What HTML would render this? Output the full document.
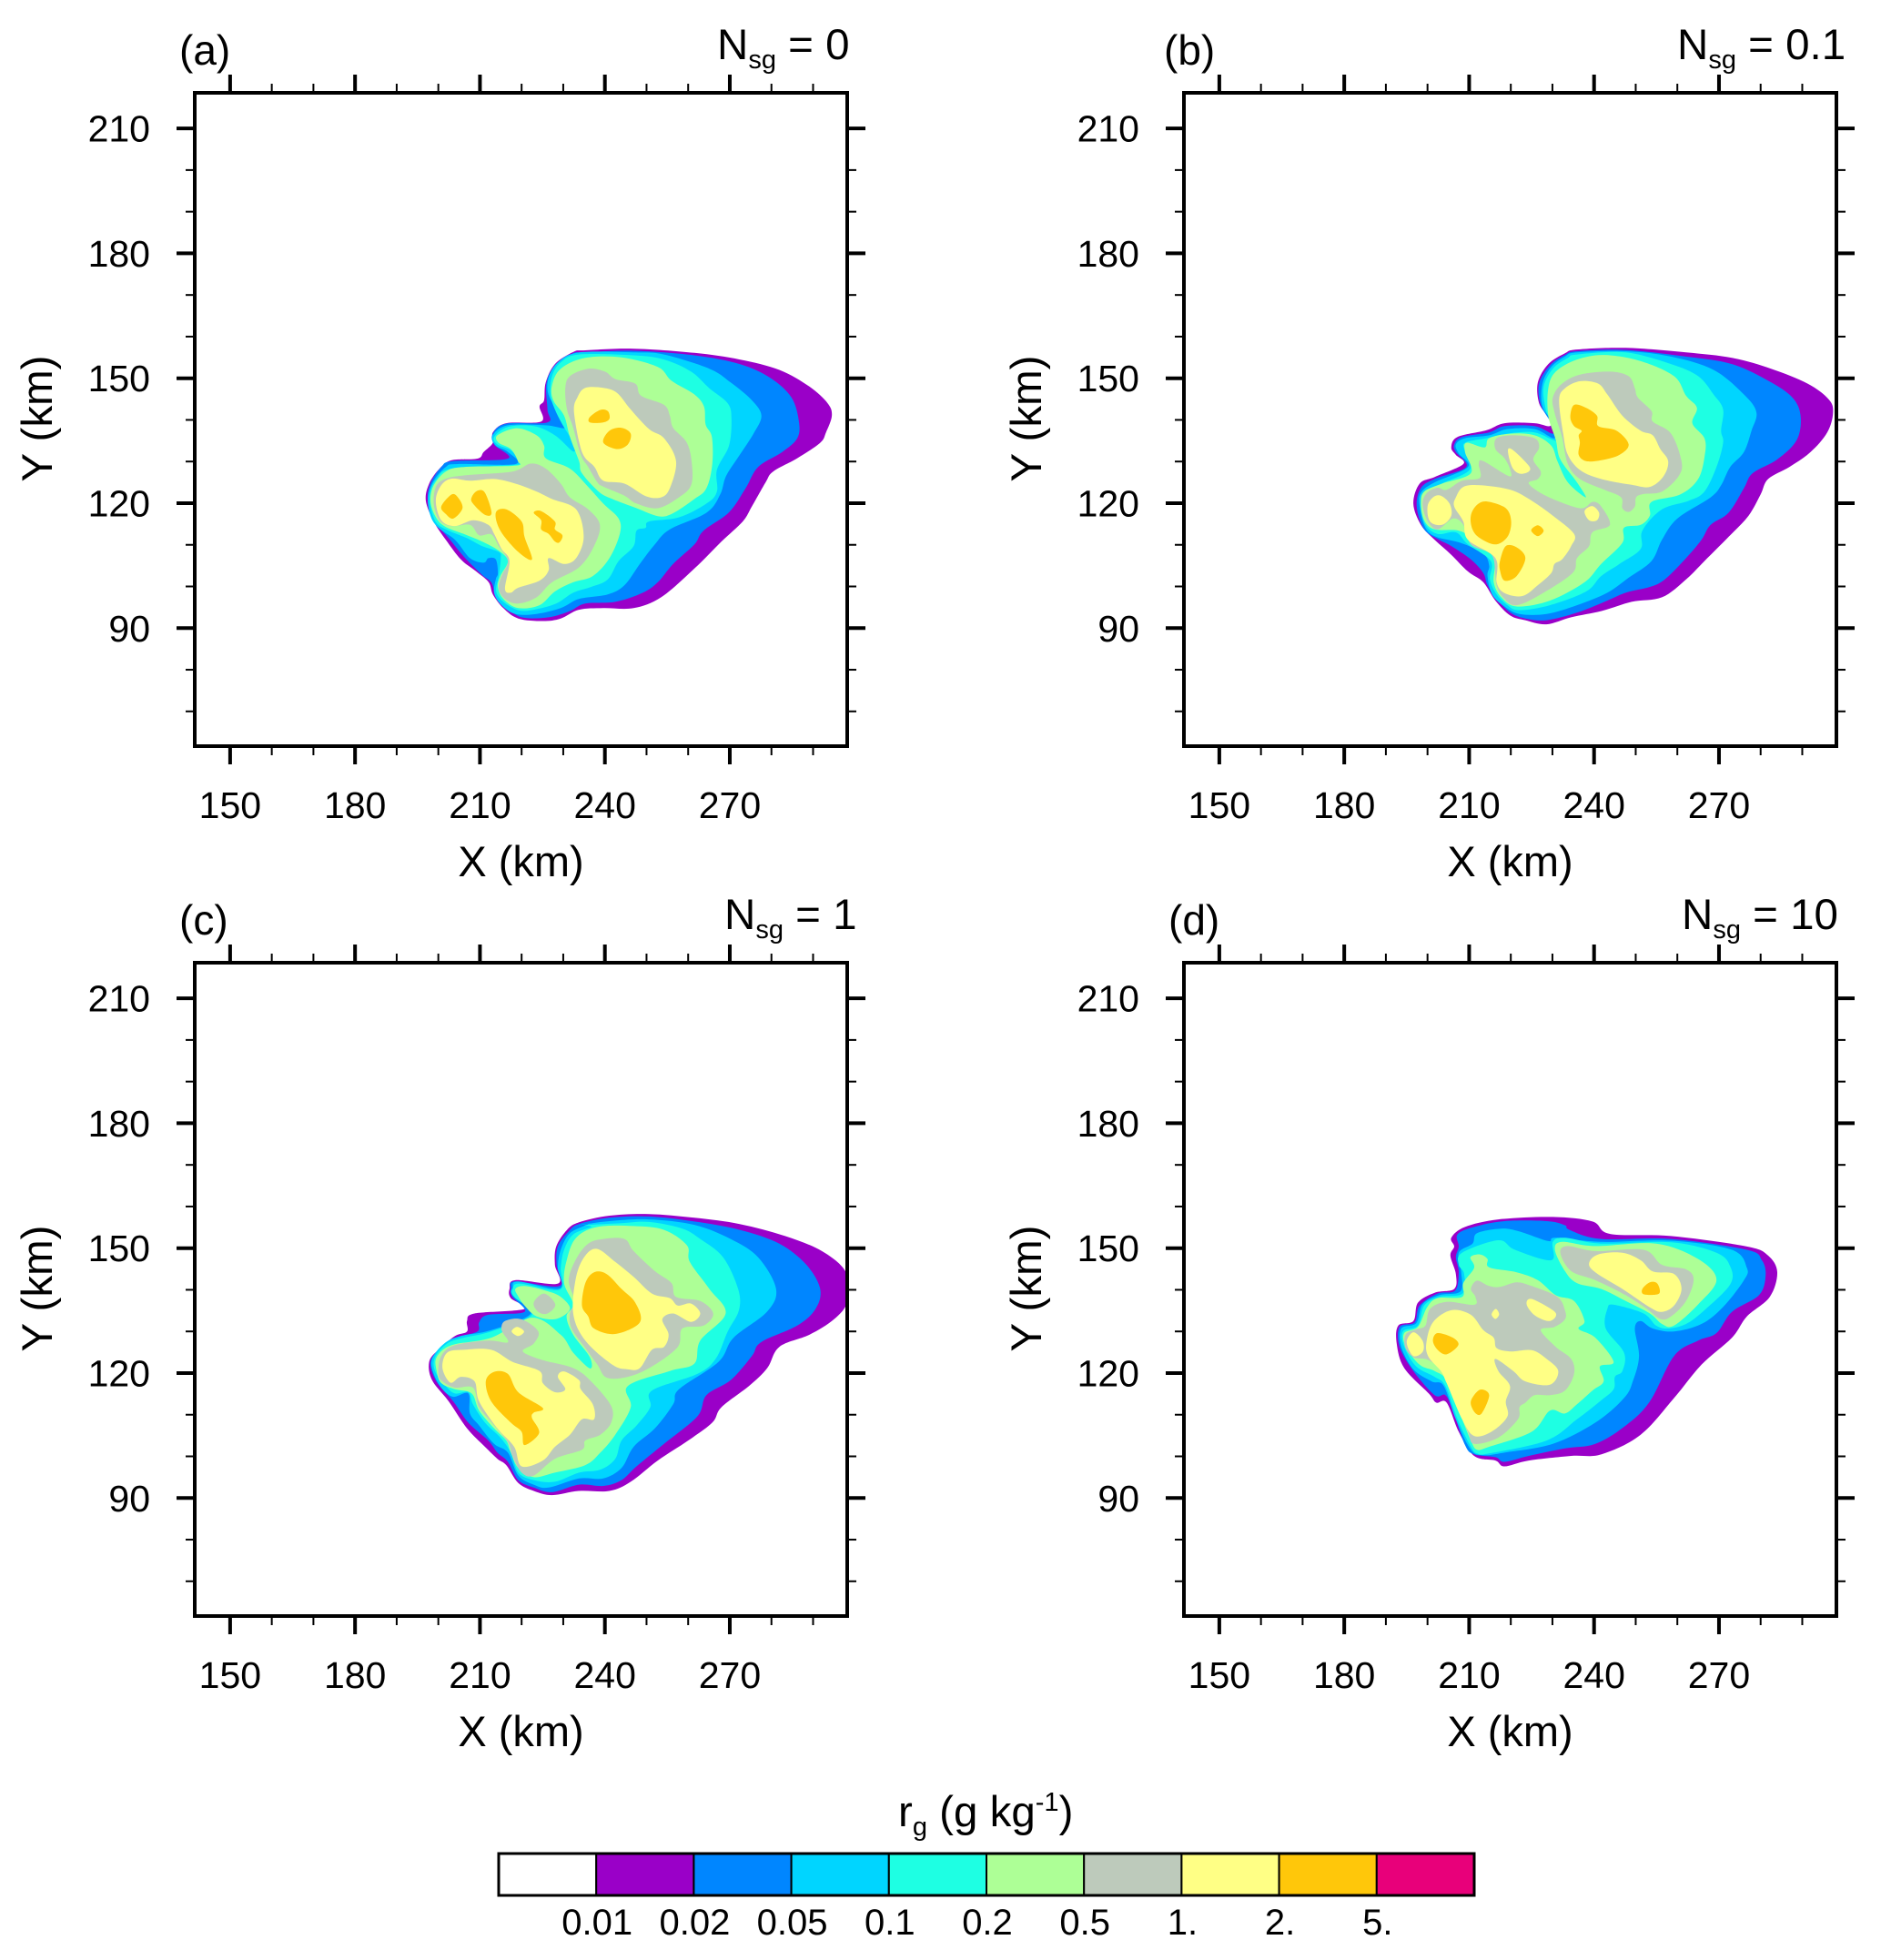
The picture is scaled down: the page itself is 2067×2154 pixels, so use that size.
<!DOCTYPE html>
<html lang="en">
<head>
<meta charset="utf-8">
<title>Graupel mixing ratio panels</title>
<style>
html,body{margin:0;padding:0;background:#fff;}
svg{display:block;}
text{font-family:"Liberation Sans",sans-serif;fill:#000;}
</style>
</head>
<body>
<svg id="chart" xmlns="http://www.w3.org/2000/svg" width="2067" height="2154" viewBox="0 0 2067 2154">
<rect width="2067" height="2154" fill="#fff"/>
<g id="panels"></g>
<g>
<text x="197" y="71" font-size="46">(a)</text>
<text x="1279" y="71" font-size="46">(b)</text>
<text x="197" y="1027" font-size="46">(c)</text>
<text x="1284" y="1027" font-size="46">(d)</text>
<text x="788" y="65" font-size="47.5">N<tspan dy="10" font-size="29">sg</tspan><tspan dy="-10"> = 0</tspan></text>
<text x="1843" y="65" font-size="47.5">N<tspan dy="10" font-size="29">sg</tspan><tspan dy="-10"> = 0.1</tspan></text>
<text x="796" y="1021" font-size="47.5">N<tspan dy="10" font-size="29">sg</tspan><tspan dy="-10"> = 1</tspan></text>
<text x="1848" y="1021" font-size="47.5">N<tspan dy="10" font-size="29">sg</tspan><tspan dy="-10"> = 10</tspan></text>
</g>
<g id="colorbar">
<text x="987" y="2007" font-size="47.5">r<tspan dy="10" font-size="29">g</tspan><tspan dy="-10"> (g kg</tspan><tspan dy="-17" font-size="29">-1</tspan><tspan dy="17">)</tspan></text>
</g>
</svg>
<script>
// Axis values (km)
const xMajorTicks = [150, 180, 210, 240, 270];
const xMinorTicks = [160, 170, 190, 200, 220, 230, 250, 260, 280, 290];
const yMajorTicks = [90, 120, 150, 180, 210];
const yMinorTicks = [70, 80, 100, 110, 130, 140, 160, 170, 190, 200];
const levelColors = ['#9a00c8', '#0086ff', '#00d5ff', '#1effe3', '#adff96', '#bdcabb', '#ffff85', '#ffc70a', '#e8007a'];
const levelNames = ['0p01', '0p02', '0p05', '0p1', '0p2', '0p5', '1', '2', '5'];
const colorbarLabels = ['0.01', '0.02', '0.05', '0.1', '0.2', '0.5', '1.', '2.', '5.'];

// Contour outlines, [X km, Y km]. Panel (a)
const aPurple = [[[235.3,156.7],[246.9,157.1],[261.5,156.1],[272.4,154.5],[281.9,152.0],[289.1,148.0],[293.5,144.0],[294.5,141.0],[293.1,137.0],[291.7,134.5],[286.2,130.8],[280.4,127.6],[278.6,125.0],[275.3,119.2],[273.1,115.6],[268.0,110.8],[261.5,104.3],[253.5,97.4],[246.9,94.8],[239.6,94.8],[233.8,94.4],[229.4,92.3],[225.1,91.7],[219.2,92.3],[215.6,94.8],[213.1,98.1],[212.1,101.0],[209.1,103.6],[205.4,106.5],[201.8,111.2],[198.9,115.6],[197.0,120.6],[197.8,124.7],[200.3,128.3],[203.2,130.3],[209.4,130.7],[210.9,132.3],[213.1,134.5],[213.1,137.0],[216.3,139.2],[224.7,139.6],[224.3,143.2],[225.4,144.7],[225.8,149.0],[228.0,153.4],[232.4,156.3]]];
const aBlue = [[[235.3,156.2],[246.9,156.6],[261.5,155.5],[272.4,153.4],[279.7,150.1],[284.8,145.4],[286.6,139.6],[286.2,135.6],[282.6,132.3],[276.8,128.7],[273.8,123.6],[269.8,117.8],[263.7,113.4],[261.5,110.1],[256.4,105.4],[252.7,101.0],[249.1,98.5],[242.5,96.3],[235.3,95.9],[231.6,94.1],[226.5,92.6],[220.0,92.6],[216.3,95.2],[213.8,98.1],[212.7,101.0],[210.5,102.8],[206.1,107.2],[202.5,111.6],[199.2,115.6],[197.5,120.6],[198.1,124.7],[200.7,128.7],[203.6,130.1],[216.7,130.7],[213.4,134.1],[213.1,136.7],[216.3,139.1],[226.2,139.4],[226.2,142.5],[226.0,149.0],[228.3,153.4],[232.4,156.0]]];
const aLightBlue = [[[233.8,156.2],[246.9,156.2],[254.2,155.7],[265.1,152.3],[270.2,149.0],[275.3,144.7],[277.6,141.0],[275.7,136.7],[272.4,131.6],[269.1,126.5],[267.7,122.1],[264.4,117.7],[255.6,113.7],[252.0,110.1],[248.4,105.4],[244.7,100.3],[240.7,98.1],[233.8,97.0],[229.4,94.8],[223.6,93.4],[218.5,93.4],[215.2,95.5],[213.4,98.4],[213.8,101.7],[214.3,103.2],[213.8,106.5],[212.0,106.8],[210.9,105.7],[207.6,106.8],[204.0,111.2],[200.0,114.1],[198.1,117.0],[197.5,121.4],[198.9,125.4],[201.8,128.7],[204.7,129.4],[218.5,129.4],[216.7,132.3],[213.8,133.8],[213.1,136.3],[216.7,138.7],[225.8,138.7],[230.5,138.1],[230.2,141.0],[226.7,145.4],[226.4,149.8],[228.7,153.8]]];
const aCyan = [[[233.8,155.7],[246.9,155.5],[254.2,154.5],[260.7,151.6],[265.1,147.6],[269.5,144.0],[270.4,140.3],[269.8,133.8],[266.9,128.0],[266.9,122.8],[264.4,119.9],[257.8,116.6],[250.6,115.6],[249.8,114.1],[247.6,113.4],[246.9,109.7],[243.3,106.1],[240.7,101.7],[236.7,99.9],[232.4,98.5],[228.3,95.9],[222.9,94.4],[219.2,94.3],[215.6,96.3],[213.9,98.8],[214.5,102.5],[215.0,106.8],[214.5,108.3],[210.5,109.7],[206.9,111.6],[202.5,113.4],[199.6,115.2],[198.1,119.2],[198.1,122.8],[199.6,125.8],[203.2,128.3],[218.5,129.2],[219.2,130.3],[217.4,132.7],[214.2,134.1],[213.4,135.9],[216.7,138.3],[222.9,138.5],[228.0,136.3],[232.4,132.4],[232.4,134.5],[229.8,138.9],[228.0,142.5],[226.9,146.1],[227.3,150.5],[229.4,153.8]]];
const aGreen = [
[[214.2,136.3],[218.9,138.0],[223.6,136.3],[225.4,133.8],[225.8,130.8],[231.6,128.3],[236.0,123.9],[239.6,119.9],[243.3,116.3],[243.6,112.7],[241.1,106.8],[237.1,102.5],[232.4,101.0],[228.0,98.8],[224.3,95.5],[219.2,94.8],[215.6,97.0],[214.3,99.9],[214.9,102.5],[216.7,106.1],[214.5,108.6],[210.5,110.8],[206.1,112.6],[201.4,114.5],[199.2,117.0],[198.1,120.6],[198.9,124.3],[201.8,127.6],[206.1,128.7],[218.5,129.0],[219.1,130.1],[217.4,133.0],[214.5,134.5]],
[[227.3,148.3],[229.4,152.3],[235.3,154.9],[244.0,155.0],[252.7,152.7],[256.0,149.4],[261.5,146.1],[263.8,143.2],[264.2,138.9],[265.7,135.9],[265.8,129.4],[264.4,123.6],[261.5,121.0],[256.0,117.4],[252.7,116.9],[247.6,118.8],[241.8,121.0],[238.5,122.8],[234.5,127.2],[233.8,130.1],[231.6,135.9],[230.2,141.0],[227.6,144.7]]];
const aGray = [
[[230.5,147.6],[231.6,150.5],[236.0,152.3],[240.0,151.6],[242.5,149.8],[247.3,148.7],[248.7,145.8],[254.2,143.6],[255.6,141.0],[256.4,138.1],[259.7,134.5],[260.9,129.4],[260.7,124.3],[257.8,121.4],[252.7,118.8],[247.6,119.9],[244.7,121.8],[239.6,124.0],[238.2,125.0],[236.0,128.7],[234.2,131.6],[232.4,138.1],[230.9,142.5]],
[[199.6,124.3],[202.5,126.1],[207.6,126.8],[217.8,127.6],[222.2,129.5],[225.8,128.3],[229.4,124.7],[231.6,121.4],[236.0,118.5],[238.8,114.8],[237.4,109.7],[233.8,104.6],[227.3,101.0],[223.6,97.4],[219.2,95.9],[216.0,97.0],[214.5,99.5],[215.2,102.5],[216.7,106.1],[214.5,109.7],[212.7,112.5],[209.8,112.3],[207.6,114.8],[203.2,114.5],[200.3,115.9],[198.9,119.9]]];
const aYellow = [
[[232.6,141.8],[233.4,145.4],[235.3,147.7],[239.6,147.7],[242.9,146.5],[246.2,142.5],[250.6,137.8],[254.2,135.6],[257.1,130.1],[255.6,123.6],[253.5,121.4],[249.8,121.7],[244.7,124.7],[239.6,125.4],[237.5,128.7],[234.5,132.3]],
[[199.4,120.6],[200.7,124.3],[203.2,125.9],[207.6,125.4],[213.4,125.8],[218.5,124.7],[223.6,122.8],[227.3,121.0],[233.1,118.5],[234.9,111.9],[233.1,106.8],[230.2,105.4],[226.5,106.8],[226.5,103.9],[224.3,101.4],[219.2,99.7],[217.4,98.5],[216.0,99.5],[217.1,106.1],[215.2,109.0],[213.4,112.6],[212.0,114.8],[208.3,115.9],[204.0,114.5],[200.7,115.9]]];
const aOrange = [
[[236.4,140.7],[238.9,142.4],[240.7,142.1],[241.1,140.3],[239.6,139.4],[236.4,139.4]],
[[241.1,137.4],[244.0,138.1],[246.2,136.7],[245.5,134.1],[242.9,133.0],[239.6,134.6]],
[[200.7,119.2],[203.2,122.1],[204.7,121.4],[205.8,118.8],[203.6,116.3],[201.8,117.4]],
[[208.0,121.4],[209.4,123.0],[211.2,122.5],[212.8,117.7],[211.2,117.2],[208.3,119.9]],
[[213.8,117.7],[216.3,118.5],[220.0,115.6],[220.7,111.9],[222.5,106.5],[219.2,108.3],[214.9,113.4]],
[[222.9,117.7],[224.7,118.1],[228.0,115.6],[228.0,113.7],[229.8,112.3],[229.1,110.6],[228.0,110.8],[226.5,112.6],[224.7,113.7],[224.7,115.9]]];

// Panel (b)
const bPurple = [[[235.9,156.9],[247.6,157.3],[262.1,156.2],[273.1,154.9],[282.5,152.3],[291.3,148.7],[296.3,145.0],[297.4,141.8],[296.0,137.0],[292.0,132.3],[286.9,128.7],[281.8,125.8],[280.0,122.1],[277.1,117.0],[272.3,111.9],[266.5,106.1],[262.1,101.7],[256.3,97.4],[249.0,96.3],[241.8,94.1],[234.5,92.6],[228.6,90.9],[223.5,91.9],[219.9,93.0],[216.3,96.6],[213.4,101.0],[209.7,103.6],[205.7,107.6],[201.7,111.2],[198.4,114.8],[196.6,119.9],[198.1,124.7],[201.7,126.3],[208.6,129.4],[206.8,131.6],[205.7,133.4],[207.2,135.9],[214.1,137.5],[218.5,139.2],[225.7,139.2],[229.4,138.5],[229.0,140.7],[226.8,144.0],[226.5,149.0],[229.0,153.4],[233.0,156.0]]];
const bBlue = [[[235.9,156.5],[247.6,156.8],[262.1,155.2],[273.1,153.4],[281.8,149.4],[287.6,145.4],[289.6,141.0],[288.7,135.2],[284.0,130.5],[278.1,127.2],[276.0,123.6],[272.3,117.7],[268.0,114.8],[265.8,111.2],[262.1,106.8],[257.0,101.7],[253.4,99.9],[247.6,98.5],[242.5,96.3],[235.9,93.7],[228.6,91.9],[223.5,92.3],[219.9,93.7],[216.6,97.0],[214.4,100.3],[213.4,103.2],[210.4,106.5],[205.7,109.7],[202.8,111.2],[199.2,113.7],[197.4,119.2],[198.4,123.6],[201.7,125.8],[209.3,128.7],[206.8,132.3],[206.4,134.1],[208.3,135.9],[214.8,137.0],[218.5,138.5],[225.7,138.5],[230.1,136.7],[229.7,139.2],[227.2,143.6],[226.8,148.7],[229.4,153.1],[233.0,155.6]]];
const bLightBlue = [[[235.9,156.2],[247.6,156.5],[258.5,155.2],[268.7,152.0],[276.0,146.1],[279.0,141.8],[277.8,137.4],[276.0,132.3],[272.7,128.7],[270.5,124.3],[268.0,121.4],[260.0,116.3],[256.3,111.2],[253.8,106.1],[248.3,102.1],[243.2,98.5],[235.9,95.5],[228.6,93.4],[222.1,93.4],[218.5,95.2],[215.5,98.1],[214.4,102.5],[214.8,105.0],[213.4,107.9],[207.9,110.5],[202.1,111.9],[199.5,114.1],[198.1,119.2],[198.4,122.5],[201.7,125.0],[209.7,128.7],[207.5,131.9],[206.8,134.1],[209.0,135.6],[214.8,136.3],[219.2,137.8],[225.7,137.8],[230.5,135.6],[230.3,139.2],[227.6,143.2],[227.6,148.7],[229.7,152.7],[233.0,155.2]]];
const bCyan = [[[235.9,155.7],[247.6,156.2],[258.5,153.4],[265.0,150.5],[268.7,146.1],[271.0,142.5],[270.5,137.4],[271.0,134.5],[269.4,128.7],[266.5,122.8],[262.8,120.6],[256.3,118.5],[251.6,113.4],[251.2,109.0],[246.1,105.4],[241.7,102.5],[238.1,98.8],[229.4,95.5],[222.1,94.3],[219.2,95.5],[216.6,98.1],[215.0,101.7],[215.2,106.1],[209.7,110.1],[206.8,113.0],[202.4,112.6],[199.5,114.8],[198.4,119.2],[199.2,122.5],[203.2,124.6],[210.1,128.0],[209.0,132.3],[209.0,134.5],[214.1,135.6],[219.9,136.8],[225.7,137.0],[230.1,135.2],[231.2,135.2],[229.7,139.2],[228.3,142.9],[227.9,148.0],[230.1,152.3],[233.7,154.9]]];
const bGreen = [[[229.0,147.6],[230.8,151.6],[235.9,154.5],[242.5,155.6],[251.2,154.1],[259.2,150.5],[262.1,145.8],[264.7,142.9],[263.6,139.2],[266.5,135.6],[266.6,131.6],[265.0,125.8],[260.7,122.1],[253.8,120.3],[253.4,117.0],[251.2,114.8],[247.2,114.1],[246.8,110.5],[241.7,105.4],[237.7,101.0],[229.4,96.6],[221.4,95.2],[217.7,97.4],[215.9,101.0],[215.9,106.8],[211.2,111.2],[207.5,113.4],[201.7,113.7],[199.2,115.9],[198.4,119.9],[199.2,122.8],[203.5,124.7],[210.4,127.2],[209.0,132.3],[209.4,134.5],[213.7,133.4],[214.8,135.6],[219.9,136.7],[225.7,136.3],[229.7,133.8],[231.2,130.1],[233.7,125.0],[238.0,121.4],[235.9,125.0],[231.9,130.5],[230.8,135.2],[229.0,141.0]]];
const bGray = [
[[230.1,145.4],[232.3,148.7],[236.7,150.9],[243.9,151.6],[248.3,150.5],[249.8,147.6],[250.5,145.4],[253.8,142.1],[254.1,139.6],[258.5,136.7],[261.0,130.1],[260.3,126.5],[256.3,122.8],[251.9,122.2],[250.1,121.4],[249.8,119.2],[248.3,117.9],[246.8,118.8],[246.5,121.4],[242.5,123.2],[236.6,125.8],[233.7,129.4],[232.3,135.9],[230.5,141.8]],
[[198.8,119.9],[199.9,122.5],[202.4,123.7],[204.6,123.2],[208.3,125.4],[212.6,126.1],[212.3,129.4],[213.4,130.1],[219.5,126.5],[219.9,127.9],[218.5,130.8],[216.3,133.0],[216.6,135.6],[220.6,136.3],[225.7,135.6],[226.8,133.4],[225.4,130.5],[227.2,127.6],[226.5,125.8],[224.3,124.7],[228.6,121.7],[236.6,118.8],[239.6,120.3],[241.7,119.2],[243.8,114.8],[239.6,113.0],[238.8,109.7],[235.9,106.8],[234.8,103.2],[227.2,98.1],[221.4,95.5],[218.5,97.0],[216.6,100.3],[215.9,106.5],[214.4,108.3],[210.4,110.1],[208.6,114.8],[206.1,116.3],[202.4,113.7],[199.9,115.9]]];
const bYellow = [
[[231.6,144.7],[233.0,147.6],[236.7,149.3],[241.0,148.7],[243.2,146.1],[246.8,141.0],[251.2,137.4],[254.1,136.3],[255.9,133.0],[257.8,130.1],[256.7,126.5],[253.4,123.9],[249.0,124.4],[241.7,125.8],[236.7,127.9],[233.7,131.6],[232.6,136.7]],
[[206.8,121.4],[208.6,123.9],[212.6,124.3],[219.9,123.2],[225.0,120.6],[230.1,117.0],[235.2,112.6],[234.5,109.7],[232.3,106.5],[230.5,105.4],[229.7,103.2],[226.5,100.3],[222.8,97.7],[218.5,98.4],[216.6,101.0],[216.3,106.8],[209.7,111.2],[208.6,115.6],[206.4,119.2]],
[[200.0,119.2],[201.3,121.4],[203.2,121.8],[205.3,119.9],[205.7,117.0],[203.5,114.8],[200.6,115.6]],
[[219.3,132.7],[220.6,132.7],[224.3,129.0],[224.3,127.6],[222.1,127.1],[220.3,128.7]],
[[237.7,118.1],[239.6,119.3],[241.2,117.7],[240.7,115.9],[238.8,115.9]]];
const bOrange = [
[[235.2,143.6],[238.1,142.9],[240.7,141.0],[241.0,138.5],[245.4,137.4],[248.3,134.1],[246.1,131.6],[241.7,130.3],[238.1,130.1],[236.3,131.6],[236.6,134.5],[236.3,136.3],[237.0,137.4],[235.2,138.5],[234.3,140.7]],
[[210.4,117.0],[211.9,119.6],[214.4,120.4],[218.8,118.8],[220.1,115.6],[219.2,111.9],[216.3,110.1],[212.6,111.6],[210.8,113.7]],
[[217.4,106.1],[218.8,109.7],[221.4,109.4],[223.5,106.8],[221.4,102.5],[218.5,101.4],[217.4,103.9]],
[[224.9,113.5],[226.5,114.7],[227.9,113.4],[226.5,112.1]]];

// Panel (c)
const cPurple = [[[233.8,156.2],[241.1,157.8],[250.6,158.2],[261.5,157.3],[272.4,155.8],[283.3,152.9],[292.1,149.3],[297.9,144.2],[298.3,137.3],[295.0,132.9],[289.1,129.2],[281.9,126.3],[279.0,121.2],[274.6,116.9],[268.0,111.8],[265.8,108.1],[260.0,103.8],[252.7,99.0],[246.2,93.9],[241.1,91.7],[233.8,91.7],[227.3,90.7],[222.9,91.7],[219.2,93.6],[216.3,97.9],[214.2,99.4],[211.2,102.3],[206.9,106.7],[202.5,113.2],[198.5,118.3],[197.8,122.7],[200.0,125.6],[204.0,128.9],[206.9,130.0],[206.9,132.5],[208.7,134.3],[220.7,135.4],[217.4,138.0],[217.1,140.2],[218.5,142.3],[228.7,141.5],[228.0,146.0],[228.3,150.4],[230.9,154.4]]];
const cBlue = [[[233.8,155.8],[241.1,157.3],[250.6,157.6],[261.5,156.4],[272.4,154.4],[281.9,151.1],[288.4,146.0],[291.7,140.2],[290.6,135.4],[286.2,131.4],[277.5,127.4],[275.3,124.1],[270.2,118.3],[264.4,114.7],[262.2,109.6],[254.2,103.0],[247.6,97.6],[244.0,94.3],[239.6,92.9],[233.8,93.2],[227.3,91.4],[222.9,92.5],[219.2,94.3],[216.7,98.7],[214.2,100.9],[212.0,103.8],[207.2,108.1],[203.6,113.2],[199.6,117.9],[198.1,122.7],[200.7,126.0],[204.3,128.5],[209.4,130.0],[209.8,132.2],[212.0,134.0],[220.7,134.7],[217.8,138.3],[217.4,140.2],[218.5,142.0],[229.1,140.9],[228.4,146.0],[228.7,150.4],[231.3,154.0]]];
const cLightBlue = [[[233.8,155.5],[241.1,156.5],[250.6,156.9],[261.5,155.6],[270.2,152.2],[276.8,147.8],[281.1,140.2],[278.9,134.7],[270.9,128.5],[267.3,122.7],[257.8,116.1],[256.4,112.5],[252.0,106.7],[246.9,102.3],[244.0,97.2],[239.6,94.7],[233.8,94.7],[226.5,92.5],[222.9,93.2],[219.2,95.4],[216.7,100.9],[213.4,103.0],[209.8,107.4],[207.6,110.3],[207.2,115.1],[203.6,114.3],[201.0,116.1],[198.9,119.8],[198.5,123.4],[201.4,127.1],[205.4,128.9],[212.7,130.3],[222.2,134.3],[217.8,138.7],[217.8,140.5],[219.2,142.0],[229.1,140.3],[228.7,145.3],[229.4,149.6],[231.6,153.6],[236.0,155.8]]];
const cCyan = [[[235.3,155.5],[244.0,156.0],[250.6,156.3],[258.6,154.7],[262.9,152.2],[268.4,147.8],[272.0,140.2],[272.2,135.1],[269.5,130.0],[266.6,123.4],[262.2,119.8],[251.3,115.8],[250.9,111.8],[247.6,107.4],[244.0,103.8],[242.5,99.4],[238.9,96.8],[233.8,96.1],[228.0,93.9],[222.9,94.3],[219.2,96.1],[217.4,100.9],[214.9,104.5],[211.2,108.1],[208.3,112.5],[207.2,115.4],[204.0,115.1],[201.8,116.9],[199.2,120.5],[199.2,123.8],[202.1,127.1],[206.1,128.5],[212.7,130.0],[222.5,134.0],[218.2,138.3],[217.9,140.2],[219.6,141.5],[229.1,140.0],[229.4,145.3],[230.2,149.6],[232.4,153.3],[236.7,155.1]]];
const cGreen = [
[[230.9,147.4],[233.1,152.5],[238.2,155.1],[246.9,155.3],[254.2,154.4],[259.7,150.7],[260.4,146.7],[265.1,140.2],[269.0,134.3],[262.9,127.8],[261.5,122.3],[255.6,120.5],[245.5,116.9],[246.2,111.8],[242.5,105.2],[238.9,100.9],[235.3,97.9],[228.0,96.1],[222.9,95.0],[219.2,97.2],[217.4,100.9],[216.3,103.8],[213.4,106.7],[209.8,111.0],[208.0,115.1],[204.0,116.1],[200.7,117.6],[199.6,120.5],[199.6,123.8],[203.2,126.7],[212.7,128.5],[222.5,133.3],[229.4,129.2],[232.4,124.9],[236.4,121.1],[236.4,123.8],[232.4,129.2],[230.8,133.6],[232.4,136.5],[230.2,141.6]],
[[218.5,140.2],[220.7,140.9],[225.8,139.8],[229.4,138.3],[231.6,135.4],[228.3,133.0],[223.6,133.6],[220.7,136.2],[219.2,138.4]]];
const cGray = [
[[231.3,142.3],[233.1,147.4],[236.0,151.1],[239.6,152.2],[244.7,152.2],[246.9,149.3],[252.0,144.5],[256.0,141.6],[257.1,138.3],[262.9,137.3],[266.0,134.3],[263.7,131.4],[258.6,130.7],[257.5,126.3],[251.3,121.6],[245.5,119.1],[240.4,118.9],[238.2,122.0],[235.3,126.0],[232.0,130.7],[231.6,134.3],[232.7,137.3]],
[[200.0,119.8],[200.7,124.1],[204.0,126.7],[212.0,127.8],[216.7,127.4],[215.2,130.3],[216.0,132.5],[220.0,132.9],[224.0,130.0],[222.9,127.1],[220.3,125.2],[225.1,123.1],[232.4,121.2],[236.7,118.0],[241.5,112.1],[241.5,108.1],[238.9,105.2],[235.3,103.8],[234.5,101.6],[228.0,99.4],[222.9,95.4],[220.0,96.1],[217.8,100.1],[216.7,103.4],[213.1,107.8],[209.8,111.8],[208.3,116.5],[204.0,116.5],[201.0,118.0]],
[[222.9,136.9],[225.4,139.1],[228.1,136.5],[226.2,134.3],[224.0,134.7]]];
const cYellow = [
[[232.4,134.3],[233.1,143.1],[235.3,148.2],[238.2,149.8],[242.5,146.7],[246.9,143.1],[251.3,139.1],[255.6,138.0],[257.5,136.2],[260.7,136.7],[262.9,134.3],[260.7,132.3],[256.4,134.3],[253.8,132.9],[255.3,129.3],[254.2,126.3],[251.3,125.6],[248.4,121.2],[245.5,120.9],[241.8,122.0],[235.3,127.8]],
[[201.0,121.2],[202.1,124.9],[206.1,125.6],[212.7,125.6],[217.8,122.7],[224.3,120.5],[225.1,117.6],[228.0,115.4],[230.5,116.1],[228.7,119.1],[230.2,120.4],[233.8,118.3],[234.2,116.1],[237.1,112.5],[237.4,108.9],[234.5,108.9],[231.6,105.2],[228.0,102.3],[225.1,99.0],[220.0,97.6],[218.2,102.3],[214.2,106.7],[209.8,113.2],[208.7,118.0],[205.4,119.1],[202.9,117.7]],
[[217.6,130.0],[218.9,131.1],[220.6,130.0],[219.2,128.9]]];
const cOrange = [
[[235.3,141.6],[237.4,144.2],[240.4,143.8],[244.0,140.2],[247.3,136.9],[248.4,132.2],[242.5,129.4],[237.4,130.7],[236.0,133.6],[234.5,136.2]],
[[211.4,118.0],[213.4,120.3],[216.7,119.8],[219.2,115.4],[225.1,111.6],[222.9,110.5],[222.5,109.2],[224.2,105.6],[220.7,102.7],[220.0,105.9],[217.4,108.1],[212.7,113.2]]];

// Panel (d)
const dPurple = [[[205.7,152.5],[209.0,155.1],[217.0,156.9],[230.1,157.5],[239.6,156.4],[243.9,153.4],[258.5,152.9],[276.7,150.4],[281.8,148.2],[284.0,144.2],[282.2,138.3],[276.7,133.6],[273.1,128.5],[265.8,122.0],[259.2,114.0],[251.2,105.2],[241.8,100.5],[234.5,100.1],[224.3,99.0],[218.5,97.6],[216.3,99.0],[211.2,100.1],[207.5,105.9],[204.6,112.9],[202.1,112.9],[200.3,115.1],[194.4,121.2],[192.6,127.1],[193.0,131.4],[196.6,132.5],[197.7,136.9],[201.7,139.3],[206.4,140.2],[206.8,143.8],[205.5,148.2],[206.4,150.4]]];
const dBlue = [[[207.2,153.3],[211.2,155.1],[218.5,156.5],[228.6,156.5],[233.0,155.5],[234.1,154.4],[241.7,152.2],[258.5,152.2],[276.7,149.6],[280.3,147.1],[281.2,143.4],[279.6,138.7],[273.1,134.7],[269.4,129.6],[265.0,127.8],[259.2,124.1],[253.4,113.2],[247.6,107.4],[240.3,103.0],[233.0,101.9],[224.3,100.1],[218.5,98.7],[216.3,99.8],[211.2,100.5],[209.0,102.7],[206.1,111.0],[204.3,114.7],[201.7,114.7],[196.6,120.5],[193.3,126.3],[193.3,131.1],[196.9,132.2],[198.1,136.2],[202.4,139.1],[206.6,139.8],[207.5,144.2],[206.8,147.8],[207.5,150.4]]];
const dLightBlue = [[[210.8,151.1],[211.9,153.6],[217.7,154.7],[222.1,154.0],[229.0,151.7],[230.8,152.5],[241.7,151.5],[258.5,151.8],[273.1,149.6],[276.7,145.3],[276.0,142.3],[270.9,135.8],[265.8,131.8],[259.2,130.0],[254.1,130.7],[251.2,132.5],[249.8,130.7],[250.8,124.1],[249.4,118.3],[247.2,114.0],[240.3,108.1],[230.1,103.0],[218.5,100.9],[213.4,100.3],[210.4,101.6],[206.8,108.9],[203.9,116.9],[201.0,118.0],[196.6,120.9],[193.7,126.3],[193.7,130.7],[197.3,132.0],[198.8,136.5],[202.8,138.7],[207.9,139.6],[208.1,144.2],[207.5,148.9]]];
const dCyan = [[[208.3,148.9],[217.0,151.9],[221.0,149.6],[229.7,147.1],[230.1,151.5],[233.0,152.5],[241.7,151.1],[258.5,151.4],[269.4,148.9],[272.7,145.6],[272.7,141.3],[266.5,135.1],[262.1,131.8],[257.8,130.7],[254.9,131.4],[251.9,134.3],[244.7,136.4],[243.2,135.4],[242.8,130.7],[247.2,124.9],[246.8,120.5],[245.0,119.1],[244.7,116.1],[241.4,113.2],[235.9,108.9],[228.6,103.8],[214.8,100.7],[211.9,100.7],[210.4,102.3],[207.2,108.9],[204.3,116.9],[201.7,119.1],[197.3,121.6],[194.4,126.3],[194.1,130.0],[197.7,131.4],[199.2,136.2],[202.8,138.3],[208.4,139.1],[208.8,143.8],[207.5,146.0]]];
const dGreen = [
[[210.3,147.8],[212.6,148.5],[214.4,147.4],[214.8,145.4],[221.4,144.2],[226.5,142.3],[230.8,138.7],[235.2,137.3],[237.7,132.5],[236.3,130.6],[240.3,128.5],[244.7,122.7],[241.4,121.6],[242.3,118.0],[239.6,115.8],[235.9,112.5],[233.0,110.3],[229.4,111.0],[225.0,105.9],[214.8,102.3],[211.9,101.6],[210.4,103.8],[207.5,111.0],[204.6,118.3],[201.7,120.5],[198.1,122.0],[194.8,126.3],[194.4,129.6],[197.7,131.1],[199.9,135.8],[202.4,138.0],[208.3,138.3],[208.6,141.6],[211.2,145.3]],
[[230.6,149.6],[232.3,151.5],[240.3,150.5],[254.9,151.1],[265.0,147.4],[269.4,142.4],[265.0,136.5],[259.2,131.4],[256.3,131.8],[253.4,134.3],[247.6,137.3],[241.7,140.2],[235.9,141.6],[233.0,144.5]]];
const dGray = [
[[231.9,148.9],[233.7,150.5],[240.3,149.3],[251.9,149.6],[256.3,146.0],[262.1,144.9],[263.9,142.4],[262.1,137.3],[258.5,133.6],[255.9,133.0],[252.7,135.4],[247.6,138.7],[240.3,142.3],[234.5,144.5]],
[[210.4,140.2],[211.9,142.2],[214.8,140.9],[217.4,140.7],[221.4,141.8],[225.0,140.9],[231.2,138.3],[233.0,135.1],[233.0,132.9],[230.5,131.1],[227.2,130.3],[230.8,126.3],[234.5,123.4],[235.2,119.8],[233.0,115.8],[229.4,114.7],[225.7,114.7],[223.5,112.9],[222.1,111.8],[221.7,108.9],[217.0,104.5],[211.2,103.0],[209.7,105.9],[206.8,113.2],[203.9,119.8],[200.3,123.1],[196.6,123.8],[194.6,126.3],[194.8,129.3],[197.3,130.5],[199.5,131.4],[200.6,135.4],[204.6,137.1],[211.2,136.4],[211.5,138.3]]];
const dYellow = [
[[238.8,146.4],[241.0,148.5],[246.8,148.9],[251.2,147.1],[254.1,144.4],[259.2,143.8],[261.0,140.2],[259.2,136.2],[256.3,134.7],[253.4,135.8],[246.8,140.2],[240.3,144.2]],
[[199.7,127.1],[201.3,132.2],[205.7,135.1],[210.4,134.0],[213.4,130.3],[215.9,128.5],[216.6,126.0],[219.9,125.2],[225.0,125.5],[228.6,123.4],[231.4,120.5],[229.4,117.2],[223.5,118.0],[220.6,120.5],[216.3,123.4],[217.0,120.5],[219.8,116.9],[218.8,113.2],[219.2,109.6],[215.5,106.0],[211.2,104.9],[208.3,108.9],[204.6,117.6],[203.2,120.5],[200.3,123.8]],
[[195.0,127.4],[196.6,129.8],[198.8,127.8],[198.9,125.2],[196.6,124.1]],
[[223.8,136.5],[225.0,137.8],[230.1,135.1],[230.8,133.6],[229.0,132.5],[225.7,133.9]],
[[215.4,134.1],[216.4,135.4],[217.2,134.1],[216.3,133.0]]];
const dOrange = [
[[201.3,127.8],[202.4,129.6],[206.1,128.5],[207.4,126.7],[204.6,124.5],[202.4,125.6]],
[[210.4,113.2],[212.6,116.0],[214.8,114.7],[213.0,110.3],[211.4,110.5]],
[[251.6,140.2],[253.4,141.8],[255.2,141.5],[255.6,139.1],[252.0,138.9]]];

const panelKeys = ['a', 'b', 'c', 'd'];
const panelLevels = [
  [aPurple, aBlue, aLightBlue, aCyan, aGreen, aGray, aYellow, aOrange],
  [bPurple, bBlue, bLightBlue, bCyan, bGreen, bGray, bYellow, bOrange],
  [cPurple, cBlue, cLightBlue, cCyan, cGreen, cGray, cYellow, cOrange],
  [dPurple, dBlue, dLightBlue, dCyan, dGreen, dGray, dYellow, dOrange]
];

const NS = 'http://www.w3.org/2000/svg';
const PLOT_W = 717, PLOT_H = 718, BASE_L = 214, BASE_T = 102, DX = 1087, DY = 956;
const X_MIN = 141.5, X_MAX = 298.2, Y_MIN = 61.65, Y_MAX = 218.55;

function el(tag, attrs, parent) {
  const n = document.createElementNS(NS, tag);
  for (const k in attrs) n.setAttribute(k, attrs[k]);
  parent.appendChild(n);
  return n;
}
function smoothPath(pts) {
  const n = pts.length;
  let d = 'M' + pts[0][0].toFixed(1) + ' ' + pts[0][1].toFixed(1);
  for (let i = 0; i < n; i++) {
    const p0 = pts[(i - 1 + n) % n], p1 = pts[i], p2 = pts[(i + 1) % n], p3 = pts[(i + 2) % n];
    const c1x = p1[0] + (p2[0] - p0[0]) / 6, c1y = p1[1] + (p2[1] - p0[1]) / 6;
    const c2x = p2[0] - (p3[0] - p1[0]) / 6, c2y = p2[1] - (p3[1] - p1[1]) / 6;
    d += 'C' + c1x.toFixed(1) + ' ' + c1y.toFixed(1) + ' ' + c2x.toFixed(1) + ' ' + c2y.toFixed(1) + ' ' + p2[0].toFixed(1) + ' ' + p2[1].toFixed(1);
  }
  return d + 'Z';
}

const root = document.getElementById('panels');
const defs = el('defs', {}, root);

panelKeys.forEach(function (key, pi) {
  const left = BASE_L + (pi % 2) * DX;
  const top = BASE_T + Math.floor(pi / 2) * DY;
  const right = left + PLOT_W, bottom = top + PLOT_H;
  const xScale = function (v) { return left + (v - X_MIN) / (X_MAX - X_MIN) * PLOT_W; };
  const yScale = function (v) { return bottom - (v - Y_MIN) / (Y_MAX - Y_MIN) * PLOT_H; };

  const g = el('g', {}, root);
  
  

  const clip = el('clipPath', { id: 'clip-' + key }, defs);
  el('rect', { x: left, y: top, width: PLOT_W, height: PLOT_H }, clip);

  const field = el('g', { 'clip-path': 'url(#clip-' + key + ')' }, g);
  
  
  panelLevels[pi].forEach(function (regions, li) {
    const d = regions.map(function (region) {
      return smoothPath(region.map(function (p) { return [xScale(p[0]), yScale(p[1])]; }));
    }).join('');
    const path = el('path', { d: d, fill: levelColors[li] }, field);
    
    
  });

  const ticks = el('g', { stroke: '#000', fill: 'none' }, g);
  
  
  function xTick(v, len, w) {
    const x = xScale(v);
    el('line', { x1: x, x2: x, y1: top, y2: top - len, 'stroke-width': w }, ticks);
    el('line', { x1: x, x2: x, y1: bottom, y2: bottom + len, 'stroke-width': w }, ticks);
  }
  function yTick(v, len, w) {
    const y = yScale(v);
    el('line', { x1: left, x2: left - len, y1: y, y2: y, 'stroke-width': w }, ticks);
    el('line', { x1: right, x2: right + len, y1: y, y2: y, 'stroke-width': w }, ticks);
  }
  xMinorTicks.forEach(function (v) { xTick(v, 10, 2); });
  yMinorTicks.forEach(function (v) { yTick(v, 10, 2); });
  xMajorTicks.forEach(function (v) { xTick(v, 20, 4); });
  yMajorTicks.forEach(function (v) { yTick(v, 20, 4); });

  const frame = el('rect', { x: left, y: top, width: PLOT_W, height: PLOT_H, fill: 'none', stroke: '#000', 'stroke-width': 4 }, g);
  
  

  xMajorTicks.forEach(function (v) {
    const t = el('text', { x: xScale(v), y: bottom + 79, 'font-size': 41, 'text-anchor': 'middle' }, g);
    
    
    t.textContent = String(v);
  });
  yMajorTicks.forEach(function (v) {
    const t = el('text', { x: left - 49, y: yScale(v) + 14.5, 'font-size': 41, 'text-anchor': 'end' }, g);
    
    
    t.textContent = String(v);
  });

  const xt = el('text', { x: left + PLOT_W / 2, y: bottom + 143, 'font-size': 47, 'text-anchor': 'middle' }, g);
  
  
  xt.textContent = 'X (km)';

  const yx = left - 157, yy = top + PLOT_H / 2 - 1;
  const yt = el('text', { x: yx, y: yy, 'font-size': 47.5, 'text-anchor': 'middle', transform: 'rotate(-90 ' + yx + ' ' + yy + ')' }, g);
  
  
  yt.textContent = 'Y (km)';
});

// Colorbar
const cb = document.getElementById('colorbar');
const CB_L = 548, CB_W = 107.2, CB_T = 2037, CB_H = 46;
const cbColors = ['#ffffff'].concat(levelColors);
cbColors.forEach(function (c, i) {
  const r = el('rect', { x: CB_L + i * CB_W, y: CB_T, width: CB_W, height: CB_H, fill: c, stroke: '#000', 'stroke-width': 2 }, cb);
  
  
});
const cbFrame = el('rect', { x: CB_L, y: CB_T, width: CB_W * cbColors.length, height: CB_H, fill: 'none', stroke: '#000', 'stroke-width': 3 }, cb);


colorbarLabels.forEach(function (label, i) {
  const t = el('text', { x: CB_L + (i + 1) * CB_W + 1, y: 2126, 'font-size': 40, 'text-anchor': 'middle' }, cb);
  
  
  t.textContent = label;
});
</script>
</body>
</html>
